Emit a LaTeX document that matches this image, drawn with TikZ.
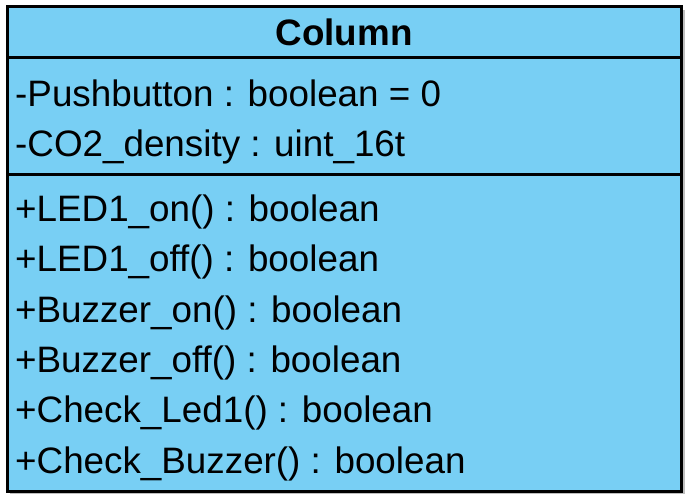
\documentclass[tikz,border=0pt]{standalone}
\usepackage{fontspec}
\setmainfont{Liberation Sans}
\definecolor{classfill}{RGB}{120,207,244}
\definecolor{shadowgray}{RGB}{190,190,190}
\begin{document}
\begin{tikzpicture}[x=1pt,y=-1pt,
  member/.style={anchor=base west,inner sep=0pt,font=\fontsize{36.8}{40}\selectfont},
  title/.style={anchor=base,inner sep=0pt,font=\fontsize{36.8}{40}\selectfont\bfseries},
  frame/.style={draw=black,line width=3pt}]
\useasboundingbox (0,0) rectangle (687,497);
% drop shadow
\fill[shadowgray] (10,10) rectangle (684.5,494);
% class box
\fill[classfill] (7.5,6.5) rectangle (681.5,491);
\draw[frame] (7.5,6.5) rectangle (681.5,491);
\draw[frame] (7.5,58) -- (681.5,58);
\draw[frame] (7.5,174) -- (681.5,174);
% class name
\node[title] (name) at (344,46) {Column};
% attributes
\node[member] (a1) at (15,106.5) {-Pushbutton : boolean = 0};
\node[member] (a2) at (15,157) {-CO2\_density : uint\_16t};
% operations
\node[member] (m1) at (15,221.5) {+LED1\_on() : boolean};
\node[member] (m2) at (15,271.8) {+LED1\_off() : boolean};
\node[member] (m3) at (15,322.1) {+Buzzer\_on() : boolean};
\node[member] (m4) at (15,372.4) {+Buzzer\_off() : boolean};
\node[member] (m5) at (15,422.7) {+Check\_Led1() : boolean};
\node[member] (m6) at (15,473) {+Check\_Buzzer() : boolean};
\end{tikzpicture}
\end{document}
